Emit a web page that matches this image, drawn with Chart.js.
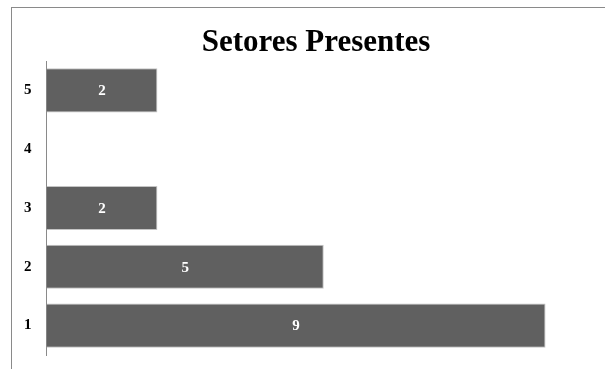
<!DOCTYPE html>
<html>
<head>
<meta charset="utf-8">
<script src="https://cdn.jsdelivr.net/npm/chart.js@4"></script>
<style>
  html, body { margin: 0; padding: 0; background: #fff; }
  #chart { display: block; }
</style>
</head>
<body>
<canvas id="chart" width="605" height="369"></canvas>
<script>
const categories = ['1', '2', '3', '4', '5'];
const counts = [9, 5, 2, null, 2];
const chartTitle = 'Setores Presentes';

const serif = "'Liberation Serif', 'Times New Roman', serif";

// thin frame round the chart, like the spreadsheet export
const framePlugin = {
  id: 'frame',
  beforeDraw(chart) {
    const ctx = chart.ctx;
    ctx.save();
    ctx.strokeStyle = '#8a8a8a';
    ctx.lineWidth = 1;
    ctx.strokeRect(11.5, 7.5, chart.width + 20, chart.height + 20);
    ctx.restore();
  }
};

// title sits a bit right of the canvas centre in the original
const titlePlugin = {
  id: 'topTitle',
  afterDraw(chart) {
    const ctx = chart.ctx;
    ctx.save();
    ctx.fillStyle = '#000';
    ctx.font = 'bold 31px ' + serif;
    ctx.textAlign = 'center';
    ctx.textBaseline = 'middle';
    ctx.fillText(chartTitle, 316, 43);
    ctx.restore();
  }
};

// value labels in the middle of each bar
const valueLabels = {
  id: 'valueLabels',
  afterDatasetsDraw(chart) {
    const ctx = chart.ctx;
    const meta = chart.getDatasetMeta(0);
    ctx.save();
    ctx.fillStyle = '#ffffff';
    ctx.font = 'bold 15px ' + serif;
    ctx.textAlign = 'center';
    ctx.textBaseline = 'middle';
    meta.data.forEach((bar, i) => {
      const v = counts[i];
      if (v === null || v === undefined) return;
      const x = (bar.x + bar.base) / 2;
      ctx.fillText(String(v), x, bar.y + 1);
    });
    ctx.restore();
  }
};

new Chart(document.getElementById('chart'), {
  type: 'bar',
  data: {
    labels: categories,
    datasets: [{
      data: counts,
      backgroundColor: '#606060',
      borderColor: '#c4c4c4',
      borderWidth: 1,
      barPercentage: 0.75,
      categoryPercentage: 1
    }]
  },
  options: {
    indexAxis: 'y',
    responsive: false,
    animation: false,
    layout: {
      padding: { left: 9, right: 4, top: 61, bottom: 14 }
    },
    scales: {
      x: {
        display: false,
        min: 0,
        max: 10
      },
      y: {
        reverse: true,
        grid: { display: false, drawTicks: false },
        border: { display: true, color: '#8a8a8a', width: 1 },
        ticks: {
          color: '#000',
          padding: 15,
          font: { family: serif, size: 15, weight: 'bold' }
        },
        afterFit(scale) {
          scale.paddingTop = 0;
          scale.paddingBottom = 0;
        }
      }
    },
    plugins: {
      legend: { display: false },
      tooltip: { enabled: false },
      title: { display: false }
    }
  },
  plugins: [framePlugin, titlePlugin, valueLabels]
});
</script>
</body>
</html>
